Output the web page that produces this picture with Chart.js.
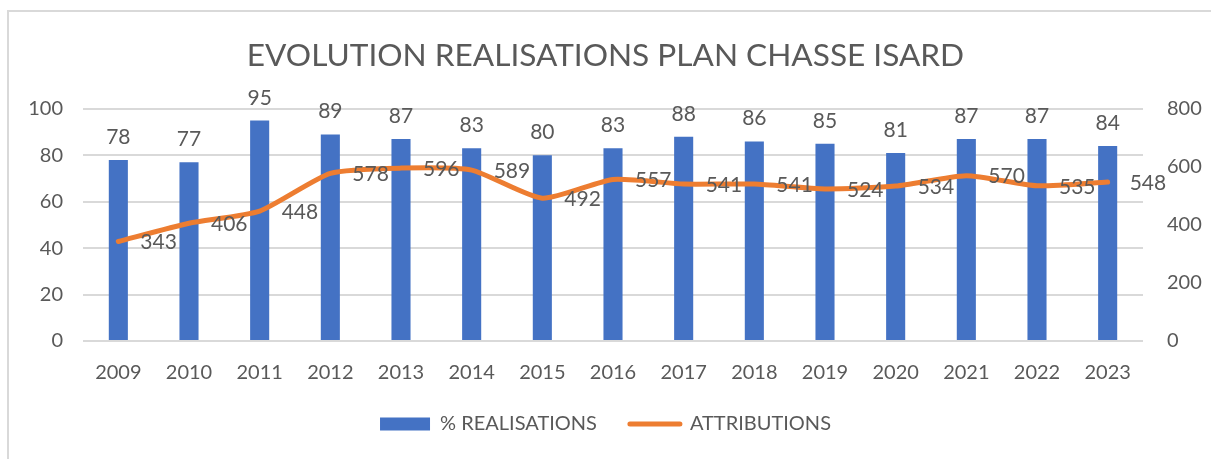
<!DOCTYPE html>
<html>
<head>
<meta charset="utf-8">
<script src="https://cdn.jsdelivr.net/npm/chart.js@4/dist/chart.umd.min.js"></script>
<style>
  html, body { margin: 0; padding: 0; background: #fff; }
  body { width: 1211px; height: 459px; overflow: hidden; position: relative; }
  #frame { position: absolute; left: 7px; top: 10px; width: 1220px; height: 470px; border: 2px solid #D9D9D9; box-sizing: border-box; }
  #wrap { position: absolute; left: 0; top: 0; width: 1211px; height: 459px; }
</style>
</head>
<body>
<div id="frame"></div>
<div id="wrap"><canvas id="chart" width="1211" height="459"></canvas></div>
<script>
const years = ['2009', '2010', '2011', '2012', '2013', '2014', '2015', '2016', '2017', '2018', '2019', '2020', '2021', '2022', '2023'];
const realisations = [78, 77, 95, 89, 87, 83, 80, 83, 88, 86, 85, 81, 87, 87, 84];
const attributions = [343, 406, 448, 578, 596, 589, 492, 557, 541, 541, 524, 534, 570, 535, 548];
const leftTicks = [0, 20, 40, 60, 80, 100];
const rightTicks = [0, 200, 400, 600, 800];

const FONT = 'Lato, "Open Sans", sans-serif';
const TEXT = '#595959';

// draws the value labels like Excel does: above bars, right of line points
const valueLabels = {
    id: 'valueLabels',
    afterDatasetsDraw(chart) {
        const ctx = chart.ctx;
        ctx.save();
        ctx.font = '21px ' + FONT;
        ctx.fillStyle = TEXT;
        chart.data.datasets.forEach((ds, i) => {
            const meta = chart.getDatasetMeta(i);
            meta.data.forEach((el, j) => {
                const v = ds.data[j];
                if (ds.type === 'bar') {
                    ctx.textAlign = 'center';
                    ctx.textBaseline = 'alphabetic';
                    ctx.fillText(v, el.x, el.y - 16);
                } else {
                    ctx.textAlign = 'left';
                    ctx.textBaseline = 'middle';
                    ctx.fillText(v, el.x + 22, el.y + 1);
                }
            });
        });
        ctx.restore();
    }
};

new Chart(document.getElementById('chart'), {
    data: {
        labels: years,
        datasets: [
            { type: 'line', label: 'ATTRIBUTIONS', data: attributions, yAxisID: 'y1', borderColor: '#ED7D31', backgroundColor: '#ED7D31', borderWidth: 5, pointRadius: 0, tension: 0.2, borderCapStyle: 'round', order: 0 },
            { type: 'bar', label: '% REALISATIONS', data: realisations, yAxisID: 'y', backgroundColor: '#4472C4', barPercentage: 0.27, categoryPercentage: 1, order: 1 }
        ]
    },
    options: {
        responsive: false,
        animation: false,
        devicePixelRatio: 1,
        layout: { padding: { left: 0, right: 0, top: 10, bottom: 15 } },
        plugins: {
            title: { display: true, text: 'EVOLUTION REALISATIONS PLAN CHASSE ISARD', color: TEXT, font: { family: FONT, size: 31.6, weight: 'normal' }, padding: { top: 27, bottom: 34 } },
            legend: {
                position: 'bottom',
                reverse: true,
                labels: {
                    color: TEXT, font: { family: FONT, size: 20 }, boxWidth: 48, boxHeight: 13, padding: 33,
                    usePointStyle: true, pointStyleWidth: 50,
                    generateLabels(chart) {
                        return chart.data.datasets.map((ds, i) => ({
                            text: ds.label,
                            fillStyle: ds.backgroundColor,
                            strokeStyle: ds.backgroundColor,
                            lineWidth: ds.type === 'line' ? 5 : 0,
                            lineCap: 'round',
                            pointStyle: ds.type === 'line' ? 'line' : 'rect',
                            hidden: false, datasetIndex: i, fontColor: TEXT
                        }));
                    }
                }
            },
            tooltip: { enabled: false }
        },
        scales: {
            x: {
                grid: { display: false, drawTicks: false },
                border: { display: false },
                ticks: { color: TEXT, font: { family: FONT, size: 20 }, padding: 20 },
                afterFit(s) { s.height = 40; }
            },
            y: {
                position: 'left', min: 0, max: 100,
                afterBuildTicks(s) { s.ticks = leftTicks.map(v => ({ value: v })); },
                grid: { color: '#D9D9D9', lineWidth: 2, drawTicks: false },
                border: { display: false },
                ticks: { color: TEXT, font: { family: FONT, size: 20 }, padding: 20 },
                afterFit(s) { s.width = 83; }
            },
            y1: {
                position: 'right', min: 0, max: 800,
                afterBuildTicks(s) { s.ticks = rightTicks.map(v => ({ value: v })); },
                grid: { display: false, drawTicks: false },
                border: { display: false },
                ticks: { color: TEXT, font: { family: FONT, size: 20 }, padding: 24 },
                afterFit(s) { s.width = 68; }
            }
        }
    },
    plugins: [valueLabels]
});
</script>
</body>
</html>
